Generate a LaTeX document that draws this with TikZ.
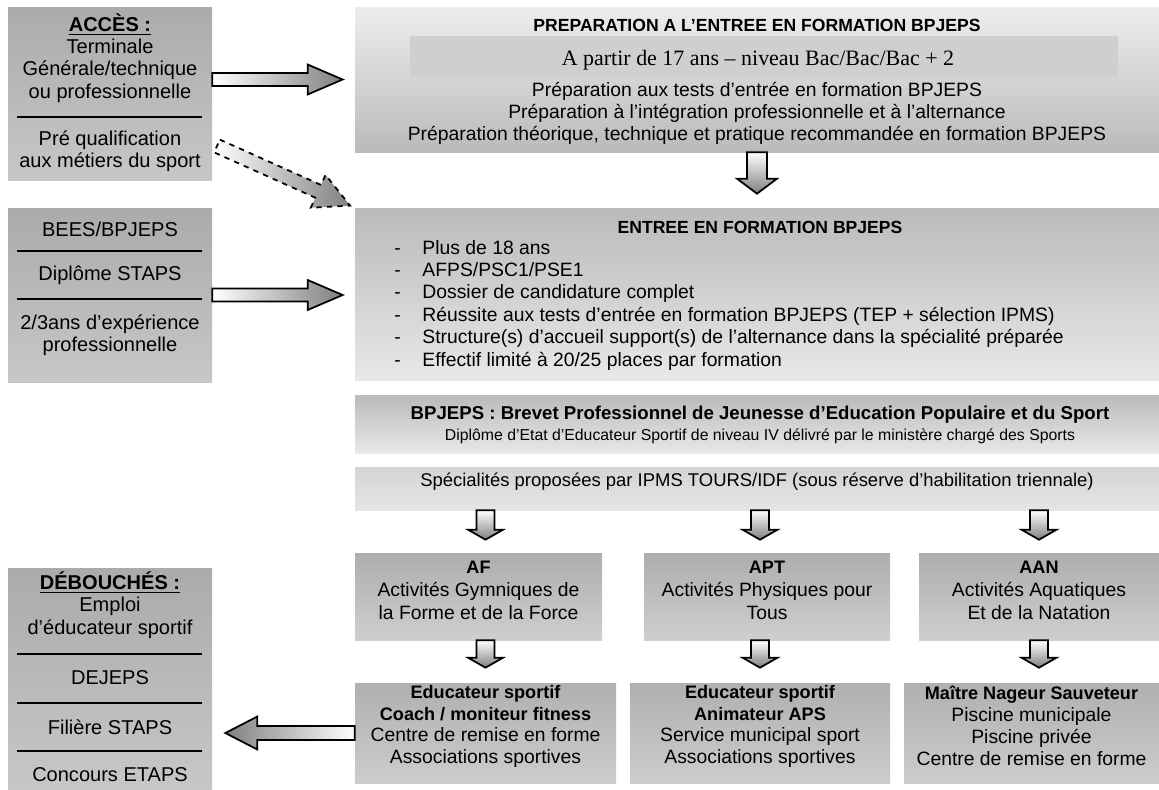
\documentclass[tikz,border=0pt]{standalone}
\usepackage{fontspec}
\setmainfont{Liberation Sans}
\newfontfamily\timesface{Liberation Serif}
\usepackage{tikz}
\usetikzlibrary{calc}
\usetikzlibrary{fit}
\usetikzlibrary{positioning}
\tikzset{leftbox/.style={rectangle,inner sep=0pt,top color=black!33,bottom color=black!22}}
\tikzset{prepbox/.style={rectangle,inner sep=0pt,top color=black!7,bottom color=black!27}}
\tikzset{entrybox/.style={rectangle,inner sep=0pt,top color=black!27,bottom color=black!9}}
\tikzset{specbox/.style={rectangle,inner sep=0pt,top color=black!17,bottom color=black!10,align=center,font=\fontsize{10.5}{12.6}\selectfont}}
\tikzset{midbox/.style={rectangle,inner sep=0pt,top color=black!32,bottom color=black!19,align=center,font=\fontsize{11}{13.2}\selectfont}}
\tikzset{jobbox/.style={rectangle,inner sep=0pt,top color=black!31,bottom color=black!20,align=center,font=\fontsize{11}{12.5}\selectfont}}
\tikzset{sepline/.style={line width=1.5pt}}
\tikzset{txt/.style={inner sep=0pt,align=center,font=\fontsize{11}{12.5}\selectfont}}
\tikzset{lefttxt/.style={inner sep=0pt,align=center,font=\fontsize{11.4}{12.7}\selectfont}}
\tikzset{ttl/.style={inner sep=0pt,font=\fontsize{10}{12}\selectfont\bfseries}}
\tikzset{harrow/.style={draw=black,line width=1pt,left color=white,right color=black!50}}
\tikzset{larrow/.style={draw=black,line width=1pt,left color=black!50,right color=white}}
\tikzset{darrow/.style={draw=black,line width=1pt,top color=white,bottom color=black!50}}
\newcommand{\boldline}[1]{{\fontsize{10.3}{12.5}\selectfont\bfseries #1}}
\newcommand{\blockarrow}[7][]{%
  \coordinate (ba-s) at (#2);
  \coordinate (ba-t) at (#3);
  \coordinate (ba-e) at ($(ba-t)!#4!(ba-s)$);
  \coordinate (ba-h) at ($(ba-e)!#7!(ba-s)$);
  \draw[#1] ($(ba-s)!#5!90:(ba-e)$) -- ($(ba-h)!#5!-90:(ba-s)$) -- ($(ba-h)!#6!-90:(ba-s)$)
    -- (ba-e) -- ($(ba-h)!#6!90:(ba-s)$) -- ($(ba-h)!#5!90:(ba-s)$) -- ($(ba-s)!#5!-90:(ba-e)$) -- cycle;
}

\begin{document}
\begin{tikzpicture}[x=0.02cm,y=-0.02cm]
  \fill[white] (0,0) rectangle (1159,789);
  \useasboundingbox (0,0) rectangle (1159,789);

  \node[leftbox, fit={(8,7) (212,180)}] (acces) {};
  \node[lefttxt] (accestxt) at (110,58) {\underline{\textbf{ACCÈS :}}\\Terminale\\Générale/technique\\ou professionnelle};
  \draw[sepline] (17,117) -- (202,117);
  \node[lefttxt] (prequal) at (110,151) {Pré qualification\\aux métiers du sport};

  \node[leftbox, fit={(8,208) (212,382)}] (diplomes) {};
  \node[lefttxt] (bees) at (110,229) {BEES/BPJEPS};
  \draw[sepline] (17,251) -- (202,251);
  \node[lefttxt] (staps) at (110,275) {Diplôme STAPS};
  \draw[sepline] (17,299) -- (202,299);
  \node[lefttxt] (experience) at (110,335) {2/3ans d’expérience\\professionnelle};

  \node[leftbox, fit={(8,568) (212,789)}] (debouches) {};
  \node[lefttxt] (emploi) at (110,605) {\underline{\textbf{DÉBOUCHÉS :}}\\Emploi\\d’éducateur sportif};
  \draw[sepline] (17,654) -- (202,654);
  \node[lefttxt] (dejeps) at (110,678) {DEJEPS};
  \draw[sepline] (17,703) -- (202,703);
  \node[lefttxt] (filiere) at (110,727) {Filière STAPS};
  \draw[sepline] (17,751) -- (202,751);
  \node[lefttxt] (etaps) at (110,775) {Concours ETAPS};

  \node[prepbox, fit={(355,7) (1159,152)}] (prep) {};
  \node[ttl] (preptitle) at (757,25) {PREPARATION A L’ENTREE EN FORMATION BPJEPS};
  \node[fill=black!19, inner sep=0pt, fit={(410,36) (1118,77)}] (age) {};
  \node[inner sep=0pt, font=\timesface\fontsize{12.5}{15}\selectfont] (agetxt) at (758,60) {A partir de 17 ans – niveau Bac/Bac/Bac + 2};
  \node[txt] (preplist) at (757,113) {Préparation aux tests d’entrée en formation BPJEPS\\Préparation à l’intégration professionnelle et à l’alternance\\Préparation théorique, technique et pratique recommandée en formation BPJEPS};

  \node[entrybox, fit={(355,208) (1159,380)}] (entree) {};
  \node[ttl] (entreetitle) at (760,227) {ENTREE EN FORMATION BPJEPS};
  \node[txt, align=left, anchor=west, font=\fontsize{11}{12.75}\selectfont] (criteres) at (394,305) {\makebox[16pt][l]{-}Plus de 18 ans\\\makebox[16pt][l]{-}AFPS/PSC1/PSE1\\\makebox[16pt][l]{-}Dossier de candidature complet\\\makebox[16pt][l]{-}Réussite aux tests d’entrée en formation BPJEPS (TEP + sélection IPMS)\\\makebox[16pt][l]{-}Structure(s) d’accueil support(s) de l’alternance dans la spécialité préparée\\\makebox[16pt][l]{-}Effectif limité à 20/25 places par formation};

  \node[entrybox, fit={(355,395) (1159,453)}] (bpjeps) {};
  \node[inner sep=0pt, font=\fontsize{10.6}{12}\selectfont\bfseries] (bpjepstitle) at (760,415) {BPJEPS : Brevet Professionnel de Jeunesse d’Education Populaire et du Sport};
  \node[inner sep=0pt, font=\fontsize{9}{11}\selectfont] (diplome) at (760,436) {Diplôme d’Etat d’Educateur Sportif de niveau IV délivré par le ministère chargé des Sports};

  \node[specbox, fit={(355,467) (1159,510)}] (specialites) {Spécialités proposées par IPMS TOURS/IDF (sous réserve d’habilitation triennale)};

  \node[midbox, fit={(355,553) (602,640)}] (af) {\boldline{AF}\\Activités Gymniques de\\la Forme et de la Force};
  \node[midbox, fit={(644,553) (890,640)}] (apt) {\boldline{APT}\\Activités Physiques pour\\Tous};
  \node[midbox, fit={(919,553) (1159,640)}] (aan) {\boldline{AAN}\\Activités Aquatiques\\Et de la Natation};

  \node[jobbox, fit={(355,683) (616,783)}] (jobaf) {\boldline{Educateur sportif}\\\boldline{Coach / moniteur fitness}\\Centre de remise en forme\\Associations sportives};
  \node[jobbox, fit={(630,683) (890,783)}] (jobapt) {\boldline{Educateur sportif}\\\boldline{Animateur APS}\\Service municipal sport\\Associations sportives};
  \node[jobbox, fit={(904,683) (1159,783)}] (jobaan) {\boldline{Maître Nageur Sauveteur}\\Piscine municipale\\Piscine privée\\Centre de remise en forme};

  \coordinate (dashtail) at (217,146);
  \blockarrow[harrow]{acces.east |- prep.west}{prep.west}{0.24cm}{0.13cm}{0.3cm}{0.7cm}
  \blockarrow[harrow, dashed]{dashtail}{entree.north west}{0.1cm}{0.14cm}{0.36cm}{0.7cm}
  \blockarrow[harrow]{diplomes.east}{diplomes.east -| entree.west}{0.24cm}{0.13cm}{0.3cm}{0.7cm}
  \blockarrow[darrow]{prep.south}{entree.north}{0.28cm}{0.2cm}{0.4cm}{0.3cm}
  \blockarrow[darrow]{specialites.south -| jobaf.north}{af.north -| jobaf.north}{0.26cm}{0.18cm}{0.35cm}{0.2cm}
  \blockarrow[darrow]{specialites.south -| jobapt.north}{apt.north -| jobapt.north}{0.26cm}{0.18cm}{0.35cm}{0.2cm}
  \blockarrow[darrow]{specialites.south -| aan.north}{aan.north}{0.26cm}{0.18cm}{0.35cm}{0.2cm}
  \blockarrow[darrow]{af.south -| jobaf.north}{jobaf.north}{0.3cm}{0.18cm}{0.35cm}{0.2cm}
  \blockarrow[darrow]{apt.south -| jobapt.north}{jobapt.north}{0.3cm}{0.18cm}{0.35cm}{0.2cm}
  \blockarrow[darrow]{aan.south}{aan.south |- jobaan.north}{0.3cm}{0.18cm}{0.35cm}{0.2cm}
  \blockarrow[larrow]{jobaf.west}{debouches.east |- jobaf.west}{0.26cm}{0.14cm}{0.33cm}{0.64cm}
\end{tikzpicture}
\end{document}
